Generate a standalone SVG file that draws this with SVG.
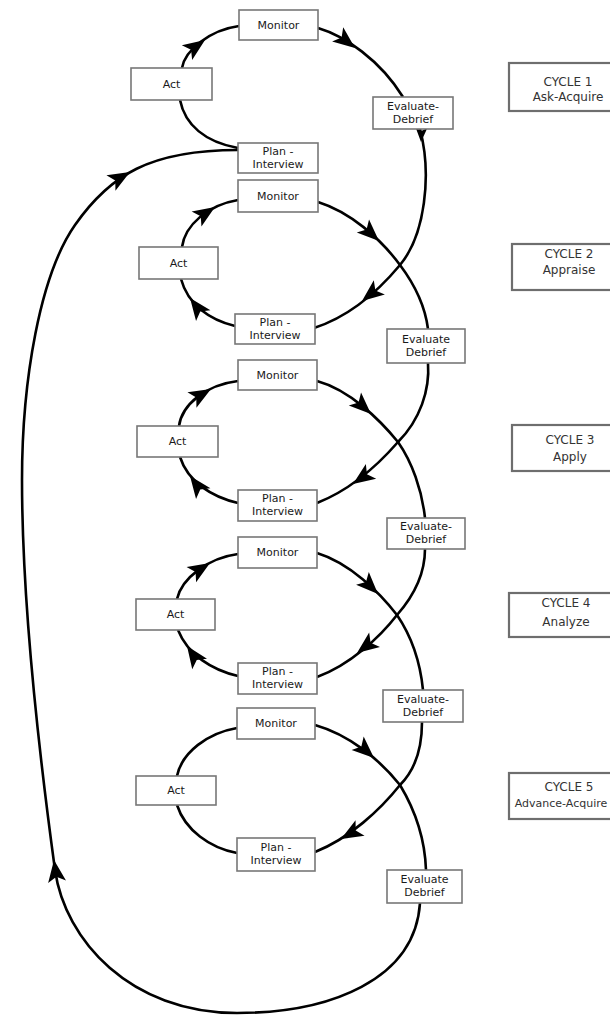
<svg xmlns="http://www.w3.org/2000/svg" xmlns:xlink="http://www.w3.org/1999/xlink" width="610" height="1016" viewBox="0 0 610 1016">
<style>
.box{fill:#fff;stroke:#777;stroke-width:1.6}
.cyc{fill:#fff;stroke:#6e6e6e;stroke-width:2.2}
.t{font-family:"DejaVu Sans","Liberation Sans",sans-serif;font-size:11px;fill:#1a1a1a;text-anchor:middle}
.ct{font-size:12px;fill:#333}
.c{fill:none;stroke:#000;stroke-width:2.6}
</style>
<defs>
<path id="ah" d="M0,0 L-22,-9 L-17,0 L-22,9 Z" fill="#000"/>
</defs>
<rect width="610" height="1016" fill="#fff"/>
<g id="connectors">
<path class="c" d="M182,68 C185,50 210,30 239,26"/>
<path class="c" d="M318,28 C345,36 380,60 403,97"/>
<path class="c" d="M180,100 C185,125 205,142 238,148"/>
<path class="c" d="M420,129 C432,175 425,235 400,265 C375,295 345,318 314,328"/>
<path class="c" d="M182,247 C185,225 208,205 238,200"/>
<path class="c" d="M318,202 C350,212 380,238 400,265 C415,285 425,305 428,329"/>
<path class="c" d="M235,326 C210,320 188,305 181,279"/>
<path class="c" d="M428,363 C430,390 420,420 398,442 C378,465 350,490 317,503"/>
<path class="c" d="M179,426 C182,405 205,385 238,381"/>
<path class="c" d="M317,381 C350,390 380,420 398,442 C412,462 422,490 425,518"/>
<path class="c" d="M238,503 C212,497 188,482 180,457"/>
<path class="c" d="M425,549 C425,575 412,598 397,615 C380,637 350,665 317,677"/>
<path class="c" d="M177,599 C182,578 208,558 238,554"/>
<path class="c" d="M317,553 C350,563 380,593 397,615 C412,637 420,660 423,690"/>
<path class="c" d="M238,676 C212,670 188,655 178,630"/>
<path class="c" d="M422,722 C422,750 415,770 400,785 C380,810 350,838 315,852"/>
<path class="c" d="M177,776 C182,752 208,733 237,728"/>
<path class="c" d="M315,725 C350,735 380,760 400,785 C415,810 425,840 426,870"/>
<path class="c" d="M237,853 C210,848 185,830 177,805"/>
<path class="c" d="M420,903 C415,980 330,1013 237,1013 C130,1013 65,940 55,870 C40,760 22,600 22,480 C22,380 40,275 75,225 C110,175 150,150 238,150"/>
<use xlink:href="#ah" transform="translate(205,40) rotate(-35)"/>
<use xlink:href="#ah" transform="translate(355,48) rotate(38)"/>
<use xlink:href="#ah" transform="translate(421,142) rotate(92) scale(0.65)"/>
<use xlink:href="#ah" transform="translate(362,301) rotate(142)"/>
<use xlink:href="#ah" transform="translate(215,207) rotate(-33)"/>
<use xlink:href="#ah" transform="translate(379,241) rotate(43)"/>
<use xlink:href="#ah" transform="translate(190,298) rotate(-127)"/>
<use xlink:href="#ah" transform="translate(353,484) rotate(145)"/>
<use xlink:href="#ah" transform="translate(211,389) rotate(-30)"/>
<use xlink:href="#ah" transform="translate(371,414) rotate(43)"/>
<use xlink:href="#ah" transform="translate(190,476) rotate(-127)"/>
<use xlink:href="#ah" transform="translate(357,653) rotate(143)"/>
<use xlink:href="#ah" transform="translate(210,563) rotate(-32)"/>
<use xlink:href="#ah" transform="translate(378,594) rotate(45)"/>
<use xlink:href="#ah" transform="translate(187,646) rotate(-125)"/>
<use xlink:href="#ah" transform="translate(341,839) rotate(150)"/>
<use xlink:href="#ah" transform="translate(374,758) rotate(42)"/>
<use xlink:href="#ah" transform="translate(130,172) rotate(-30)"/>
<use xlink:href="#ah" transform="translate(54,860) rotate(-98)"/>
</g>
<g id="c1-monitor"><rect class="box" x="239" y="10" width="79" height="30"/><text class="t" x="278.5" y="29">Monitor</text></g>
<g id="c1-act"><rect class="box" x="131" y="68" width="81" height="32"/><text class="t" x="171.5" y="88">Act</text></g>
<g id="c1-evaluate"><rect class="box" x="373" y="97" width="80" height="32"/><text class="t" x="413" y="110">Evaluate-</text><text class="t" x="413" y="123">Debrief</text></g>
<g id="c1-plan"><rect class="box" x="238" y="143" width="80" height="30"/><text class="t" x="278" y="155">Plan -</text><text class="t" x="278" y="168">Interview</text></g>
<g id="c2-monitor"><rect class="box" x="238" y="180" width="80" height="32"/><text class="t" x="278" y="200">Monitor</text></g>
<g id="c2-act"><rect class="box" x="139" y="247" width="79" height="32"/><text class="t" x="178.5" y="267">Act</text></g>
<g id="c2-plan"><rect class="box" x="235" y="314" width="80" height="30"/><text class="t" x="275" y="326">Plan -</text><text class="t" x="275" y="339">Interview</text></g>
<g id="c2-evaluate"><rect class="box" x="387" y="329" width="78" height="34"/><text class="t" x="426" y="343">Evaluate</text><text class="t" x="426" y="356">Debrief</text></g>
<g id="c3-monitor"><rect class="box" x="238" y="360" width="79" height="30"/><text class="t" x="277.5" y="379">Monitor</text></g>
<g id="c3-act"><rect class="box" x="137" y="426" width="81" height="31"/><text class="t" x="177.5" y="445">Act</text></g>
<g id="c3-plan"><rect class="box" x="238" y="490" width="79" height="31"/><text class="t" x="277.5" y="502">Plan -</text><text class="t" x="277.5" y="515">Interview</text></g>
<g id="c3-evaluate"><rect class="box" x="387" y="518" width="78" height="31"/><text class="t" x="426" y="530">Evaluate-</text><text class="t" x="426" y="543">Debrief</text></g>
<g id="c4-monitor"><rect class="box" x="238" y="537" width="79" height="31"/><text class="t" x="277.5" y="556">Monitor</text></g>
<g id="c4-act"><rect class="box" x="136" y="599" width="79" height="31"/><text class="t" x="175.5" y="618">Act</text></g>
<g id="c4-plan"><rect class="box" x="238" y="663" width="79" height="31"/><text class="t" x="277.5" y="675">Plan -</text><text class="t" x="277.5" y="688">Interview</text></g>
<g id="c4-evaluate"><rect class="box" x="383" y="690" width="80" height="32"/><text class="t" x="423" y="703">Evaluate-</text><text class="t" x="423" y="716">Debrief</text></g>
<g id="c5-monitor"><rect class="box" x="237" y="708" width="78" height="31"/><text class="t" x="276" y="727">Monitor</text></g>
<g id="c5-act"><rect class="box" x="136" y="776" width="80" height="29"/><text class="t" x="176" y="794">Act</text></g>
<g id="c5-plan"><rect class="box" x="237" y="838" width="78" height="33"/><text class="t" x="276" y="851">Plan -</text><text class="t" x="276" y="864">Interview</text></g>
<g id="c5-evaluate"><rect class="box" x="387" y="870" width="75" height="33"/><text class="t" x="424.5" y="883">Evaluate</text><text class="t" x="424.5" y="896">Debrief</text></g>
<g id="cycle1"><rect class="cyc" x="509" y="63" width="120" height="48"/><text class="t ct" x="568" y="86">CYCLE 1</text><text class="t ct" x="568" y="101">Ask-Acquire</text></g>
<g id="cycle2"><rect class="cyc" x="512" y="244" width="120" height="46"/><text class="t ct" x="569" y="258">CYCLE 2</text><text class="t ct" x="569" y="274">Appraise</text></g>
<g id="cycle3"><rect class="cyc" x="512" y="425" width="120" height="46"/><text class="t ct" x="570" y="444">CYCLE 3</text><text class="t ct" x="570" y="461">Apply</text></g>
<g id="cycle4"><rect class="cyc" x="509" y="593" width="120" height="44"/><text class="t ct" x="566" y="607">CYCLE 4</text><text class="t ct" x="566" y="626">Analyze</text></g>
<g id="cycle5"><rect class="cyc" x="509" y="773" width="120" height="46"/><text class="t ct" x="569" y="791">CYCLE 5</text><text class="t ct" x="561" y="807" style="font-size:11px">Advance-Acquire</text></g>
</svg>
